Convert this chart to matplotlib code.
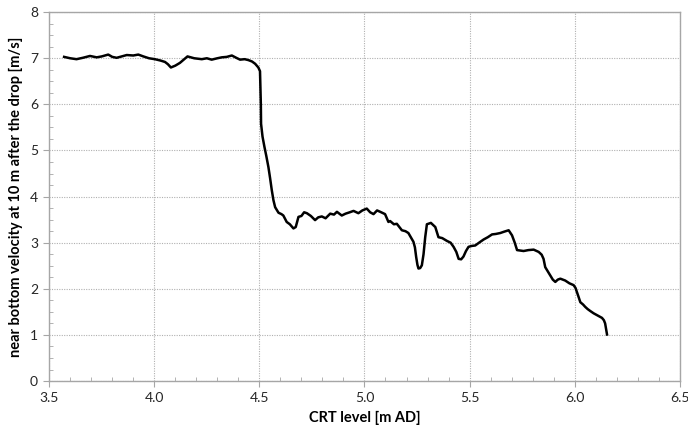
import matplotlib
matplotlib.use("Agg")
import matplotlib.pyplot as plt
from matplotlib.ticker import MultipleLocator

# CRT level [m AD] vs near bottom velocity [m/s]
crt_level = [
    3.571, 3.60, 3.63, 3.66, 3.694, 3.726, 3.75, 3.781, 3.80, 3.821, 3.845,
    3.869, 3.90, 3.924, 3.948, 3.975, 4.003, 4.03, 4.051, 4.065, 4.079,
    4.10, 4.122, 4.14, 4.158, 4.19, 4.226, 4.25, 4.273, 4.30, 4.321, 4.345,
    4.369, 4.39, 4.408, 4.43, 4.448, 4.465, 4.48, 4.495, 4.503, 4.505,
    4.507, 4.508, 4.515, 4.524, 4.533, 4.543, 4.551, 4.559, 4.567, 4.575,
    4.591, 4.605, 4.614, 4.63, 4.645, 4.662, 4.673, 4.686, 4.70, 4.713,
    4.726, 4.745, 4.765, 4.78, 4.797, 4.815, 4.837, 4.855, 4.869, 4.892,
    4.91, 4.93, 4.948, 4.971, 4.99, 5.011, 5.027, 5.043, 5.06, 5.075,
    5.098, 5.114, 5.122, 5.14, 5.154, 5.178, 5.195, 5.209, 5.233, 5.240,
    5.246, 5.252, 5.257, 5.265, 5.273, 5.281, 5.289, 5.297, 5.316, 5.337,
    5.352, 5.37, 5.392, 5.41, 5.424, 5.437, 5.448, 5.46, 5.471, 5.483,
    5.495, 5.51, 5.527, 5.545, 5.567, 5.587, 5.607, 5.625, 5.646, 5.665,
    5.686, 5.702, 5.715, 5.726, 5.74, 5.757, 5.78, 5.805, 5.829, 5.843,
    5.852, 5.860, 5.872, 5.884, 5.896, 5.908, 5.92, 5.932, 5.955, 5.975,
    5.995, 6.004, 6.011, 6.019, 6.027, 6.04, 6.05, 6.062, 6.074, 6.09,
    6.106, 6.118, 6.13, 6.139, 6.145, 6.150, 6.154,
]
velocity = [
    7.03, 7.00, 6.98, 7.01, 7.05, 7.02, 7.04, 7.08, 7.03, 7.01, 7.04,
    7.07, 7.06, 7.08, 7.04, 7.00, 6.98, 6.95, 6.92, 6.87, 6.80,
    6.84, 6.90, 6.97, 7.04, 7.00, 6.98, 7.00, 6.97, 7.00, 7.02, 7.03,
    7.06, 7.01, 6.97, 6.98, 6.96, 6.93, 6.88, 6.80, 6.72, 6.40,
    6.00, 5.58, 5.30, 5.08, 4.88, 4.64, 4.40, 4.14, 3.92, 3.77,
    3.65, 3.62, 3.59, 3.45, 3.40, 3.31, 3.34, 3.56, 3.58, 3.66,
    3.64, 3.58, 3.49, 3.55, 3.57, 3.53, 3.63, 3.61, 3.67, 3.59,
    3.63, 3.66, 3.69, 3.64, 3.70, 3.74, 3.66, 3.62, 3.70, 3.67,
    3.62, 3.45, 3.47, 3.40, 3.41, 3.27, 3.25, 3.21, 3.02, 2.90,
    2.69, 2.52, 2.44, 2.45, 2.51, 2.75, 3.12, 3.40, 3.43, 3.34,
    3.12, 3.10, 3.04, 3.00, 2.91, 2.80, 2.65, 2.64, 2.70, 2.82,
    2.91, 2.93, 2.94, 3.00, 3.07, 3.12, 3.18, 3.19, 3.21, 3.24,
    3.27, 3.16, 3.00, 2.84, 2.83, 2.82, 2.84, 2.85, 2.80, 2.74,
    2.65, 2.47, 2.38, 2.29, 2.20, 2.15, 2.20, 2.22, 2.18, 2.12,
    2.08, 2.02, 1.93, 1.82, 1.71, 1.66, 1.61, 1.56, 1.52, 1.47,
    1.43, 1.40, 1.37, 1.32, 1.25, 1.12, 1.01,
]

plt.rcParams["font.family"] = ["Lato", "DejaVu Sans"]

fig = plt.figure(figsize=(6.88, 4.34), dpi=100)
ax = fig.add_axes([0.0715, 0.122, 0.9165, 0.850])

ax.plot(crt_level, velocity, color="black", linewidth=1.8, zorder=3)

ax.set_xlim(3.5, 6.5)
ax.set_ylim(0, 8)
ax.xaxis.set_major_locator(MultipleLocator(0.5))
ax.xaxis.set_minor_locator(MultipleLocator(0.1))
ax.yaxis.set_major_locator(MultipleLocator(1))
ax.yaxis.set_minor_locator(MultipleLocator(0.25))
ax.xaxis.set_major_formatter(plt.FormatStrFormatter("%.1f"))

# dotted light grid like the spreadsheet original
ax.grid(True, which="major", color="#b0b0b0", linestyle=(0, (1.0, 1.2)),
        linewidth=0.8, zorder=0)
for s in ax.spines.values():
    s.set_color("#a6a6a6")
    s.set_linewidth(1.0)

ax.tick_params(which="major", direction="out", length=4, color="#a6a6a6",
               labelsize=10, labelcolor="#262626", pad=4)
ax.tick_params(which="minor", direction="in", length=3, color="#a6a6a6")

ax.set_xlabel("CRT level [m AD]", fontsize=10.5, fontweight="bold", labelpad=5)
ax.set_ylabel("near bottom velocity at 10 m after the drop [m/s]",
              fontsize=10.5, fontweight="bold", labelpad=5)

fig.savefig("out.png", dpi=100)
